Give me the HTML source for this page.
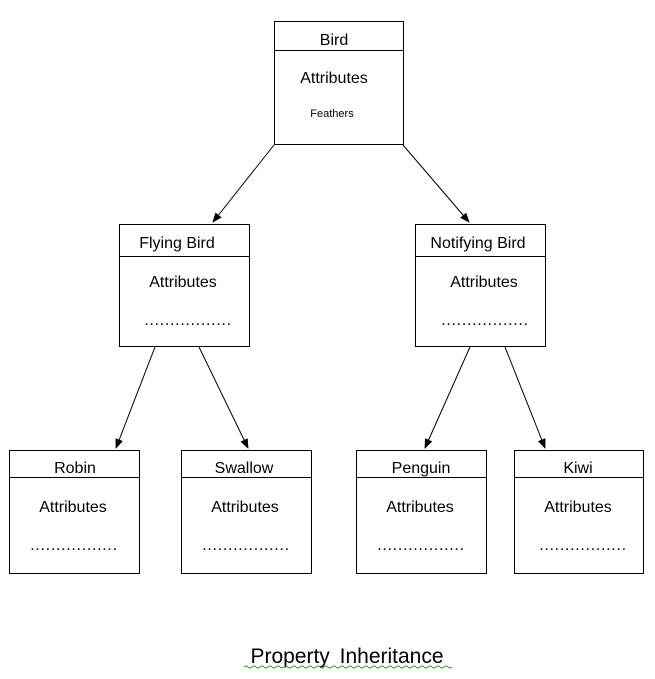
<!DOCTYPE html>
<html><head><style>body{margin:0;background:#fff}svg{display:block}text{font-family:"Liberation Sans",sans-serif;fill:#000}.d{letter-spacing:0.7px}</style></head>
<body>
<svg width="655" height="679" viewBox="0 0 655 679" xmlns="http://www.w3.org/2000/svg">
<defs><marker id="a" markerWidth="10" markerHeight="10" refX="9" refY="5" orient="auto" markerUnits="userSpaceOnUse"><path d="M0,1 L10,5 L0,9 z" fill="#000"/></marker></defs>
<g fill="none" stroke="#000" stroke-width="1">
<rect x="274.5" y="21.5" width="129" height="123"/><line x1="274" y1="50.5" x2="404" y2="50.5"/>
<rect x="119.5" y="224.5" width="130" height="122"/><line x1="119" y1="256.5" x2="250" y2="256.5"/>
<rect x="415.5" y="224.5" width="130" height="122"/><line x1="415" y1="256.5" x2="546" y2="256.5"/>
<rect x="9.5" y="450.5" width="130" height="123"/><line x1="9" y1="477.5" x2="140" y2="477.5"/>
<rect x="181.5" y="450.5" width="130" height="123"/><line x1="181" y1="477.5" x2="312" y2="477.5"/>
<rect x="356.5" y="450.5" width="130" height="123"/><line x1="356" y1="477.5" x2="487" y2="477.5"/>
<rect x="514.5" y="450.5" width="129" height="123"/><line x1="514" y1="477.5" x2="644" y2="477.5"/>
<line x1="274" y1="145" x2="213" y2="222" marker-end="url(#a)"/>
<line x1="403" y1="145" x2="469" y2="222" marker-end="url(#a)"/>
<line x1="155" y1="347" x2="116" y2="448" marker-end="url(#a)"/>
<line x1="199" y1="347" x2="248" y2="448" marker-end="url(#a)"/>
<line x1="470" y1="347" x2="425" y2="448" marker-end="url(#a)"/>
<line x1="505" y1="347" x2="545" y2="448" marker-end="url(#a)"/>
</g>
<g font-size="16" text-anchor="middle">
<text x="334" y="45">Bird</text><text x="334" y="83">Attributes</text><text x="332" y="117" font-size="11">Feathers</text>
<text x="177" y="248">Flying Bird</text><text x="183" y="287">Attributes</text><text class="d" x="188" y="325">.................</text>
<text x="478" y="248">Notifying Bird</text><text x="484" y="287">Attributes</text><text class="d" x="485" y="325">.................</text>
<text x="75" y="473">Robin</text><text x="73" y="512">Attributes</text><text class="d" x="74" y="550">.................</text>
<text x="244" y="473">Swallow</text><text x="245" y="512">Attributes</text><text class="d" x="246" y="550">.................</text>
<text x="421" y="473">Penguin</text><text x="420" y="512">Attributes</text><text class="d" x="421" y="550">.................</text>
<text x="578" y="473">Kiwi</text><text x="578" y="512">Attributes</text><text class="d" x="583" y="550">.................</text>
<text x="347" y="663" font-size="21" word-spacing="4">Property Inheritance</text>
</g>
<path d="M244,667 q2,-2 4,0 t4,0 t4,0 t4,0 t4,0 t4,0 t4,0 t4,0 t4,0 t4,0 t4,0 t4,0 t4,0 t4,0 t4,0 t4,0 t4,0 t4,0 t4,0 t4,0 t4,0 t4,0 t4,0 t4,0 t4,0 t4,0 t4,0 t4,0 t4,0 t4,0 t4,0 t4,0 t4,0 t4,0 t4,0 t4,0 t4,0 t4,0 t4,0 t4,0 t4,0 t4,0 t4,0 t4,0 t4,0 t4,0 t4,0 t4,0 t4,0 t4,0 t4,0 t4,0" fill="none" stroke="#3a9a3a" stroke-width="1"/>
</svg>
</body></html>
